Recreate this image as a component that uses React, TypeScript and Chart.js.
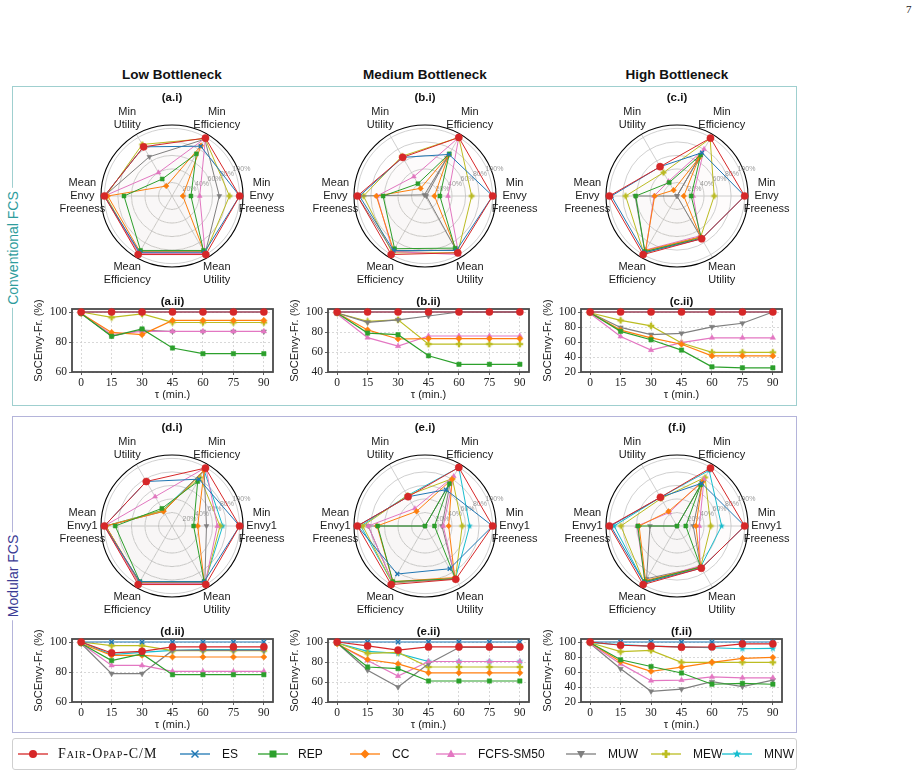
import React, { useEffect, useRef } from "react";
import { Chart, registerables } from "chart.js";
Chart.register(...registerables);

const SANS = "'Liberation Sans', Arial, sans-serif";
const SERIF = "'Liberation Serif', 'Times New Roman', serif";

const SERIES = ["Fair-Opap-C/M", "ES", "REP", "CC", "FCFS-SM50", "MUW", "MEW", "MNW"];
const COLORS = ["#d62728", "#1f77b4", "#2ca02c", "#ff7f0e", "#e377c2", "#7f7f7f", "#bcbd22", "#17becf"];
const MARKERS = ["circle", "crossRot", "rect", "rectRot", "triangle", "triangleDown", "plusFilled", "starFilled"];

// radar axes in counter-clockwise order starting at the right
const AXES_CONV = ["Min\nEnvy\nFreeness", "Min\nEfficiency", "Min\nUtility", "Mean\nEnvy\nFreeness", "Mean\nEfficiency", "Mean\nUtility"];
const AXES_MOD = ["Min\nEnvy1\nFreeness", "Min\nEfficiency", "Min\nUtility", "Mean\nEnvy1\nFreeness", "Mean\nEfficiency", "Mean\nUtility"];
const RADIAL_TICKS = [20, 40, 60, 80, 100];
const RADIAL_MAX = 105;

// values per series: [MinEnvy, MinEff, MinUtil, MeanEnvy, MeanEff, MeanUtil]
const radarA = [
  [100, 99, 84, 100, 100, 100],
  [100, 85, 84, 100, 96, 96],
  [28, 72, 29, 71, 93, 93],
  [16, 86, 17, 95, 95, 95],
  [41, 99, 40, 100, 98, 98],
  [70, 97, 67, 100, 97, 98],
  [85, 98, 88, 98, 98, 98],
  null,
];
const radarB = [
  [100, 100, 66, 100, 100, 97],
  [100, 71, 66, 97, 93, 93],
  [22, 72, 21, 62, 90, 89],
  [14, 70, 13, 72, 93, 93],
  [34, 100, 33, 71, 95, 100],
  [2, 65, 2, 100, 95, 92],
  [69, 100, 68, 91, 97, 97],
  null,
];
const radarC = [
  [100, 99, 50, 100, 100, 73],
  [100, 74, 50, 97, 97, 73],
  [21, 70, 23, 61, 95, 72],
  [10, 65, 10, 33, 93, 70],
  [24, 80, 25, 34, 92, 68],
  [0, 60, 0, 62, 95, 70],
  [55, 98, 40, 76, 98, 70],
  null,
];
const radarD = [
  [100, 99, 76, 100, 100, 100],
  [100, 80, 76, 100, 95, 95],
  [32, 76, 30, 84, 95, 95],
  [38, 95, 25, 98, 96, 95],
  [67, 100, 50, 100, 98, 98],
  [51, 95, 25, 98, 97, 97],
  [71, 83, 27, 98, 98, 98],
  [75, 95, 27, 98, 97, 97],
];
const radarE = [
  [100, 100, 50, 100, 100, 91],
  [100, 62, 50, 100, 82, 73],
  [14, 72, 0, 70, 95, 90],
  [35, 80, 25, 71, 95, 88],
  [27, 85, 30, 84, 96, 90],
  [25, 75, 0, 84, 96, 90],
  [55, 81, 52, 92, 97, 90],
  [66, 100, 52, 95, 97, 90],
];
const radarF = [
  [100, 99, 49, 100, 100, 72],
  [100, 73, 49, 98, 97, 72],
  [13, 70, 0, 58, 95, 70],
  [28, 75, 25, 56, 93, 70],
  [33, 80, 23, 59, 95, 68],
  [24, 75, 0, 40, 90, 70],
  [50, 83, 47, 83, 97, 70],
  [66, 95, 49, 93, 97, 70],
];

const TAU = [0, 15, 30, 45, 60, 75, 90];
const lineA = [
  [100, 100, 100, 100, 100, 100, 100],
  [100, 100, 100, 100, 100, 100, 100],
  [99, 83.8, 88.7, 76, 72.2, 72.2, 72.2],
  [99, 86.4, 84.9, 94.4, 94.4, 94.4, 94.4],
  [99, 85, 87.1, 87.1, 87.1, 87.1, 87.1],
  [99, 84, 88, 87, 87, 87, 87],
  [100, 96.4, 98.7, 93.1, 93, 93, 93],
  null,
];
const lineB = [
  [100, 100, 100, 100, 100, 100, 100],
  [100, 100, 100, 100, 100, 100, 100],
  [99, 78.9, 77.3, 56.2, 47.7, 47.7, 47.7],
  [99, 82.1, 73, 73.4, 73.4, 73.4, 73.4],
  [98, 74.4, 65.9, 76, 76, 76, 76],
  [99, 89.6, 92.2, 96, 100, 100, 100],
  [99, 90.6, 92.2, 67.9, 67.9, 67.9, 67.9],
  null,
];
const lineC = [
  [100, 100, 100, 100, 100, 100, 100],
  [100, 100, 100, 100, 100, 100, 100],
  [99, 74.2, 63, 49.2, 26.9, 25.6, 25.6],
  [99, 75.9, 65.6, 57, 41.5, 41.5, 41.5],
  [98, 67.3, 49.2, 59.1, 65.6, 65.6, 65.6],
  [99, 79.4, 69.9, 71.6, 80.2, 85, 100],
  [99, 88.8, 81.5, 58.7, 46.2, 46.2, 46.2],
  null,
];
const lineD = [
  [100, 92.7, 93.8, 96.7, 96.7, 96.7, 96.7],
  [100, 100, 100, 100, 100, 100, 100],
  [99, 87.6, 92, 78.2, 78.2, 78.2, 78.2],
  [99, 91.1, 91.1, 90, 90, 90, 90],
  [99, 84.4, 84.4, 80.4, 80.4, 80.4, 80.4],
  [99, 78.9, 78.9, 94.4, 94.4, 94.4, 94.4],
  [100, 97.6, 97.6, 94.2, 94.2, 94.2, 94.2],
  [100, 91.6, 93.1, 94.4, 94.9, 94.9, 94.9],
];
const lineE = [
  [100, 96.1, 91.9, 95.1, 95.1, 95.1, 95.1],
  [100, 100, 100, 100, 100, 100, 100],
  [99, 75, 73.4, 61, 61, 61, 61],
  [98, 82.5, 78.2, 69.2, 69.2, 69.2, 69.2],
  [98, 81.5, 65.9, 80.5, 80.5, 80.5, 80.5],
  [99, 71.8, 54.9, 78.2, 94.5, 94.5, 94.5],
  [99, 88.6, 89.6, 75, 75, 75, 75],
  [99, 90.6, 88.6, 80.5, 80.5, 80.5, 80.5],
];
const lineF = [
  [100, 95.7, 94.4, 93.1, 93.5, 97.4, 97.4],
  [100, 100, 100, 100, 100, 100, 100],
  [99, 76.3, 67.3, 58.7, 43.7, 44.9, 43.7],
  [99, 73.8, 60.9, 66.5, 72.9, 78.1, 79.4],
  [98, 70.8, 48.4, 49.2, 53.5, 52.3, 52.3],
  [98, 64.3, 34.2, 37.2, 47.1, 40.6, 49.2],
  [99, 87.1, 88.8, 72.9, 72.9, 72.9, 72.9],
  [99, 96.6, 94.4, 93.5, 92.3, 91, 91.4],
];
const Y_TICKS_60 = [60, 80, 100];
const Y_TICKS_40 = [40, 60, 80, 100];
const Y_TICKS_20 = [20, 40, 60, 80, 100];

function hexA(hex: string, a: number) {
  const n = parseInt(hex.slice(1), 16);
  return `rgba(${(n >> 16) & 255},${(n >> 8) & 255},${n & 255},${a})`;
}

function markerCanvas(kind: string, color: string, r: number) {
  const size = Math.ceil(r * 2.4 + 2);
  const c = document.createElement("canvas");
  c.width = size;
  c.height = size;
  const g = c.getContext("2d")!;
  g.fillStyle = color;
  g.translate(size / 2, size / 2);
  if (kind === "plusFilled") {
    const a = r * 1.05, t = r * 0.38;
    g.fillRect(-a, -t, 2 * a, 2 * t);
    g.fillRect(-t, -a, 2 * t, 2 * a);
  } else {
    g.beginPath();
    for (let k = 0; k < 10; k++) {
      const rr = k % 2 === 0 ? r * 1.2 : r * 0.5;
      const ang = -Math.PI / 2 + (k * Math.PI) / 5;
      g.lineTo(rr * Math.cos(ang), rr * Math.sin(ang));
    }
    g.closePath();
    g.fill();
  }
  return c;
}

function pointProps(i: number, r: number) {
  const k = MARKERS[i];
  if (k === "plusFilled" || k === "starFilled") return { pointStyle: markerCanvas(k, COLORS[i], r), pointRadius: r, pointRotation: 0 };
  if (k === "triangleDown") return { pointStyle: "triangle", pointRotation: 180, pointRadius: r };
  return { pointStyle: k, pointRadius: r, pointRotation: 0 };
}

// chart order (clockwise from right) -> index in CCW value arrays
const ORDER = [0, 5, 4, 3, 2, 1];

const radarDecor = {
  id: "radarDecor",
  beforeDatasetsDraw(chart: any) {
    const s = chart.scales.r;
    const ctx = chart.ctx;
    const n = chart.data.labels.length;
    ctx.save();
    ctx.strokeStyle = "#c4c4c4";
    ctx.lineWidth = 0.8;
    const rOut = s.getDistanceFromCenterForValue(RADIAL_MAX);
    for (let i = 0; i < n; i++) {
      const p = s.getPointPosition(i, rOut);
      ctx.beginPath();
      ctx.moveTo(s.xCenter, s.yCenter);
      ctx.lineTo(p.x, p.y);
      ctx.stroke();
    }
    for (const v of RADIAL_TICKS) {
      ctx.beginPath();
      ctx.arc(s.xCenter, s.yCenter, s.getDistanceFromCenterForValue(v), 0, Math.PI * 2);
      ctx.stroke();
    }
    ctx.strokeStyle = "#000";
    ctx.lineWidth = 1.1;
    ctx.beginPath();
    ctx.arc(s.xCenter, s.yCenter, rOut, 0, Math.PI * 2);
    ctx.stroke();
    // radial tick labels at 22.5 deg
    ctx.fillStyle = "#9a9a9a";
    ctx.font = `7px ${SANS}`;
    ctx.textAlign = "left";
    ctx.textBaseline = "bottom";
    const a = (22.5 * Math.PI) / 180;
    for (const v of RADIAL_TICKS) {
      const d = s.getDistanceFromCenterForValue(v);
      ctx.fillText(v + "%", s.xCenter + d * Math.cos(a) - 2, s.yCenter - d * Math.sin(a) + 2);
    }
    ctx.restore();
  },
  afterDraw(chart: any) {
    const s = chart.scales.r;
    const ctx = chart.ctx;
    const labels: string[] = chart.data.labels;
    const dist = s.getDistanceFromCenterForValue(100) + 22;
    ctx.save();
    ctx.fillStyle = "#1a1a1a";
    ctx.font = `11px ${SANS}`;
    ctx.textAlign = "center";
    ctx.textBaseline = "middle";
    labels.forEach((lab, i) => {
      const p = s.getPointPosition(i, dist);
      const lines = lab.split("\n");
      const lh = 13;
      lines.forEach((ln, k) => {
        ctx.fillText(ln, p.x, p.y - ((lines.length - 1) * lh) / 2 + k * lh);
      });
    });
    ctx.restore();
  },
};

const frame = {
  id: "frame",
  beforeDatasetsDraw(chart: any) {
    const { left, top, right, bottom } = chart.chartArea;
    const ctx = chart.ctx;
    ctx.save();
    ctx.strokeStyle = "#4a4a4a";
    ctx.lineWidth = 1.8;
    ctx.strokeRect(left, top, right - left, bottom - top);
    ctx.restore();
  },
};

function RadarPanel({ cx, cy, labels, rows }: { cx: number; cy: number; labels: string[]; rows: (number[] | null)[] }) {
  const ref = useRef<HTMLCanvasElement>(null);
  useEffect(() => {
    const datasets: any[] = [];
    rows.forEach((vals, i) => {
      if (!vals) return;
      datasets.push({
        label: SERIES[i],
        data: ORDER.map((j) => vals[j]),
        borderColor: COLORS[i],
        backgroundColor: hexA(COLORS[i], 0.008),
        fill: true,
        borderWidth: 1,
        ...pointProps(i, i === 0 ? 3.6 : 2.8),
        pointBackgroundColor: COLORS[i],
        pointBorderColor: COLORS[i],
        pointBorderWidth: i === 1 ? 1.3 : 0.5,
      });
    });
    const chart = new Chart(ref.current!, {
      type: "radar",
      data: { labels: ORDER.map((j) => labels[j]), datasets },
      options: {
        responsive: false,
        animation: false,
        devicePixelRatio: 1,
        layout: { padding: { left: 49, right: 49, top: 29, bottom: 29 } },
        plugins: { legend: { display: false }, tooltip: { enabled: false } },
        elements: { line: { tension: 0 } },
        scales: {
          r: {
            min: 0,
            max: RADIAL_MAX,
            startAngle: 90,
            grid: { display: false },
            angleLines: { display: false },
            pointLabels: { display: false },
            ticks: { display: false },
          },
        },
      } as any,
      plugins: [radarDecor as any],
    });
    return () => chart.destroy();
  }, []);
  return <canvas ref={ref} width={240} height={200} style={{ position: "absolute", left: cx - 120, top: cy - 100, width: 240, height: 200 }} />;
}

function LinePanel({ left, top, rows, ymin, yticks }: { left: number; top: number; rows: (number[] | null)[]; ymin: number; yticks: number[] }) {
  const ref = useRef<HTMLCanvasElement>(null);
  useEffect(() => {
    const datasets: any[] = [];
    rows.forEach((vals, i) => {
      if (!vals) return;
      datasets.push({
        label: SERIES[i],
        data: TAU.map((t, k) => ({ x: t, y: vals[k] })),
        borderColor: COLORS[i],
        backgroundColor: COLORS[i],
        borderWidth: 1.2,
        ...pointProps(i, i === 0 ? 3.6 : 3.1),
        pointBackgroundColor: COLORS[i],
        pointBorderColor: COLORS[i],
        pointBorderWidth: i === 1 ? 1.4 : 0.5,
        clip: false,
        tension: 0,
      });
    });
    const chart = new Chart(ref.current!, {
      type: "line",
      data: { datasets },
      options: {
        responsive: false,
        animation: false,
        devicePixelRatio: 1,
        layout: { padding: { top: 15, right: 7, left: 0, bottom: 0 } },
        plugins: { legend: { display: false }, tooltip: { enabled: false } },
        scales: {
          x: {
            type: "linear",
            min: -4.5,
            max: 94.5,
            afterBuildTicks: (s: any) => {
              s.ticks = TAU.map((v) => ({ value: v }));
            },
            afterFit: (s: any) => {
              s.height = 34;
            },
            grid: { color: "#cfcfcf", lineWidth: 0.8, tickColor: "#333", tickLength: 3, tickBorderDash: [] },
            border: { display: false, dash: [2, 2] },
            ticks: { font: { family: SERIF, size: 11.5 }, color: "#222", padding: 1, maxRotation: 0, autoSkip: false },
            title: { display: true, text: "τ (min.)", font: { family: SANS, size: 11 }, color: "#222", padding: { top: 0, bottom: 4 } },
          },
          y: {
            type: "linear",
            min: ymin,
            max: 100 + (100 - ymin) * 0.05,
            afterBuildTicks: (s: any) => {
              s.ticks = yticks.map((v) => ({ value: v }));
            },
            afterFit: (s: any) => {
              s.width = 44;
            },
            grid: { color: "#cfcfcf", lineWidth: 0.8, tickColor: "#333", tickLength: 3, tickBorderDash: [] },
            border: { display: false, dash: [2, 2] },
            ticks: { font: { family: SERIF, size: 11.5 }, color: "#222", padding: 2, autoSkip: false },
            title: { display: true, text: "SoCEnvy-Fr. (%)", font: { family: SANS, size: 11 }, color: "#222", padding: { top: 4, bottom: 2 } },
          },
        },
      } as any,
      plugins: [frame as any],
    });
    return () => chart.destroy();
  }, []);
  return <canvas ref={ref} width={252} height={112} style={{ position: "absolute", left, top: top - 10, width: 252, height: 112 }} />;
}

function Txt({ x, y, children, style }: { x: number; y: number; children: any; style?: any }) {
  return (
    <div style={{ position: "absolute", left: x, top: y, transform: "translate(-50%,-50%)", whiteSpace: "nowrap", ...style }}>{children}</div>
  );
}

function LegendMarker({ i }: { i: number }) {
  const c = COLORS[i];
  const k = MARKERS[i];
  const cx = 15, cy = 7;
  let m: any = null;
  if (k === "circle") m = <circle cx={cx} cy={cy} r={4} fill={c} />;
  else if (k === "crossRot")
    m = (
      <g stroke={c} strokeWidth={1.5}>
        <line x1={cx - 3.5} y1={cy - 3.5} x2={cx + 3.5} y2={cy + 3.5} />
        <line x1={cx - 3.5} y1={cy + 3.5} x2={cx + 3.5} y2={cy - 3.5} />
      </g>
    );
  else if (k === "rect") m = <rect x={cx - 3.5} y={cy - 3.5} width={7} height={7} fill={c} />;
  else if (k === "rectRot") m = <polygon points={`${cx},${cy - 4.5} ${cx + 4.5},${cy} ${cx},${cy + 4.5} ${cx - 4.5},${cy}`} fill={c} />;
  else if (k === "triangle") m = <polygon points={`${cx},${cy - 4.5} ${cx + 4},${cy + 3} ${cx - 4},${cy + 3}`} fill={c} />;
  else if (k === "triangleDown") m = <polygon points={`${cx},${cy + 4.5} ${cx + 4},${cy - 3} ${cx - 4},${cy - 3}`} fill={c} />;
  else if (k === "plusFilled")
    m = (
      <g fill={c}>
        <rect x={cx - 4} y={cy - 1.4} width={8} height={2.8} />
        <rect x={cx - 1.4} y={cy - 4} width={2.8} height={8} />
      </g>
    );
  else {
    const pts: string[] = [];
    for (let q = 0; q < 10; q++) {
      const rr = q % 2 === 0 ? 4.5 : 1.9;
      const a = -Math.PI / 2 + (q * Math.PI) / 5;
      pts.push(`${cx + rr * Math.cos(a)},${cy + rr * Math.sin(a)}`);
    }
    m = <polygon points={pts.join(" ")} fill={c} />;
  }
  return (
    <svg width={30} height={14} style={{ display: "block" }}>
      <line x1={0} y1={cy} x2={30} y2={cy} stroke={c} strokeWidth={1.3} />
      {m}
    </svg>
  );
}

const LEGEND_SAMPLE_X = [18, 180, 258, 350, 436, 566, 651, 722];
const LEGEND_TEXT_X = [58, 222, 298, 392, 478, 608, 693, 764];

export default function App() {
  const colX = [172, 425, 677];
  const lineX = [28, 284, 537];
  const titleStyle = { fontFamily: SANS, fontWeight: "bold", fontSize: 11.5, color: "#111" };
  return (
    <div style={{ position: "absolute", left: 0, top: 0, width: 922, height: 777, background: "#fff", fontFamily: SANS, overflow: "hidden" }}>
      <div style={{ position: "absolute", left: 906, top: 3, fontFamily: SERIF, fontSize: 11, color: "#222" }}>7</div>

      <Txt x={colX[0]} y={74} style={{ fontWeight: "bold", fontSize: 13.5, color: "#111" }}>Low Bottleneck</Txt>
      <Txt x={colX[1]} y={74} style={{ fontWeight: "bold", fontSize: 13.5, color: "#111" }}>Medium Bottleneck</Txt>
      <Txt x={colX[2]} y={74} style={{ fontWeight: "bold", fontSize: 13.5, color: "#111" }}>High Bottleneck</Txt>

      <div style={{ position: "absolute", left: 12, top: 86, width: 785, height: 320, border: "1.3px solid #9fcfcf", boxSizing: "border-box" }} />
      <div style={{ position: "absolute", left: 12, top: 416, width: 785, height: 317, border: "1.3px solid #b4b4da", boxSizing: "border-box" }} />
      <Txt x={13} y={248} style={{ transform: "translate(-50%,-50%) rotate(-90deg)", background: "#fff", padding: "0 3px", color: "#2e9c9c", fontSize: 14 }}>Conventional FCS</Txt>
      <Txt x={13} y={576} style={{ transform: "translate(-50%,-50%) rotate(-90deg)", background: "#fff", padding: "0 3px", color: "#3b3b94", fontSize: 14 }}>Modular FCS</Txt>

      <RadarPanel cx={colX[0]} cy={196} labels={AXES_CONV} rows={radarA} />
      <RadarPanel cx={colX[1]} cy={196} labels={AXES_CONV} rows={radarB} />
      <RadarPanel cx={colX[2]} cy={196} labels={AXES_CONV} rows={radarC} />
      <RadarPanel cx={colX[0]} cy={526} labels={AXES_MOD} rows={radarD} />
      <RadarPanel cx={colX[1]} cy={526} labels={AXES_MOD} rows={radarE} />
      <RadarPanel cx={colX[2]} cy={526} labels={AXES_MOD} rows={radarF} />

      <LinePanel left={lineX[0]} top={304} rows={lineA} ymin={60} yticks={Y_TICKS_60} />
      <LinePanel left={lineX[1]} top={304} rows={lineB} ymin={40} yticks={Y_TICKS_40} />
      <LinePanel left={lineX[2]} top={304} rows={lineC} ymin={20} yticks={Y_TICKS_20} />
      <LinePanel left={lineX[0]} top={634} rows={lineD} ymin={60} yticks={Y_TICKS_60} />
      <LinePanel left={lineX[1]} top={634} rows={lineE} ymin={40} yticks={Y_TICKS_40} />
      <LinePanel left={lineX[2]} top={634} rows={lineF} ymin={20} yticks={Y_TICKS_20} />

      {["a", "b", "c"].map((p, k) => (
        <React.Fragment key={p}>
          <Txt x={colX[k]} y={97} style={titleStyle}>({p}.i)</Txt>
          <Txt x={lineX[k] + 144.5} y={301} style={titleStyle}>({p}.ii)</Txt>
        </React.Fragment>
      ))}
      {["d", "e", "f"].map((p, k) => (
        <React.Fragment key={p}>
          <Txt x={colX[k]} y={427} style={titleStyle}>({p}.i)</Txt>
          <Txt x={lineX[k] + 144.5} y={631} style={titleStyle}>({p}.ii)</Txt>
        </React.Fragment>
      ))}

      <div style={{ position: "absolute", left: 12, top: 738, width: 785, height: 32, border: "1px solid #cfcfcf", borderRadius: 3, boxSizing: "border-box" }} />
      {SERIES.map((name, i) => (
        <React.Fragment key={name}>
          <div style={{ position: "absolute", left: LEGEND_SAMPLE_X[i], top: 747 }}>
            <LegendMarker i={i} />
          </div>
          <div
            style={{
              position: "absolute",
              left: LEGEND_TEXT_X[i],
              top: 754,
              transform: "translateY(-50%)",
              whiteSpace: "nowrap",
              fontFamily: i === 0 ? SERIF : SANS,
              fontVariant: i === 0 ? "small-caps" : "normal",
              fontSize: i === 0 ? 14 : 12,
              letterSpacing: i === 0 ? 0.9 : 0,
              color: "#111",
            }}
          >
            {name}
          </div>
        </React.Fragment>
      ))}
    </div>
  );
}
